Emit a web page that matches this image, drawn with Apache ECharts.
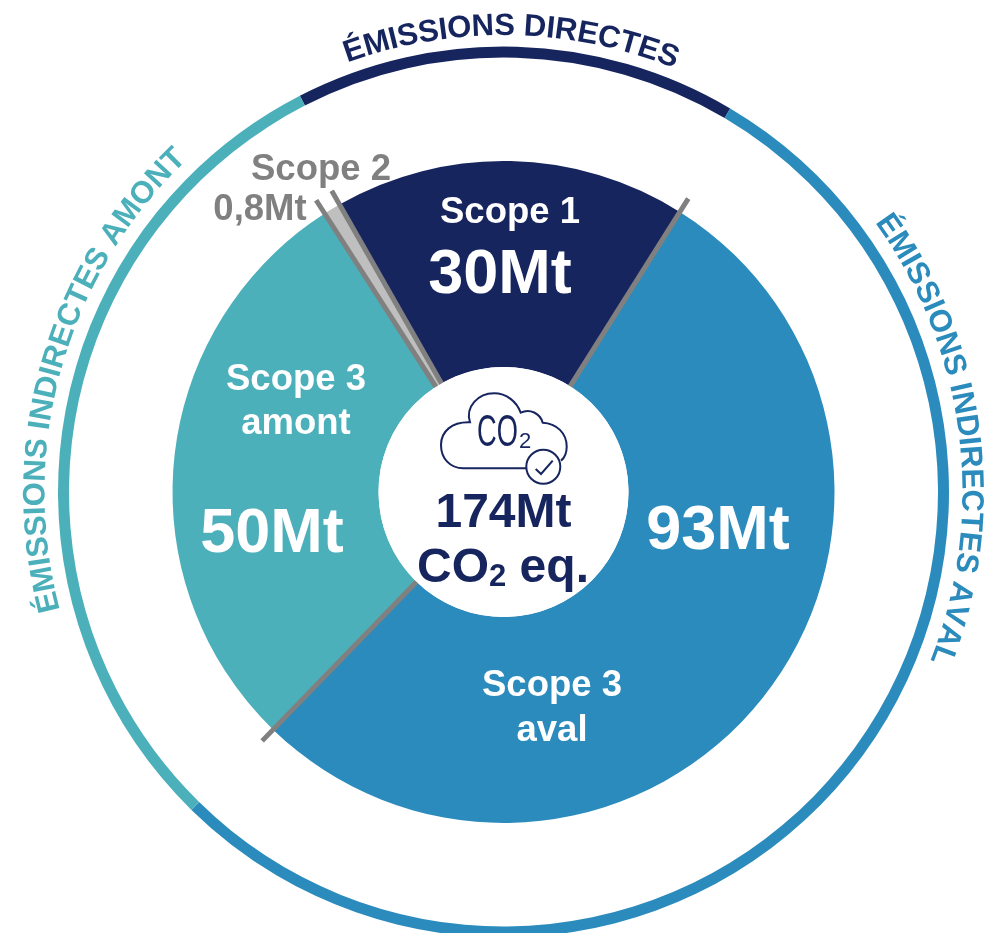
<!DOCTYPE html>
<html>
<head>
<meta charset="utf-8">
<style>html,body{margin:0;padding:0;background:#fff}#c{width:1000px;height:933px}</style>
<script src="https://cdn.jsdelivr.net/npm/echarts@6/dist/echarts.min.js"></script>
</head>
<body>
<div id="c"></div>
<script>
// ---- data ----
const scopeNames = ['Scope 1', 'Scope 2', 'Scope 3 amont', 'Scope 3 aval'];
const scopeValues = [30, 0.8, 50, 93];
const ringNames = ['Émissions directes', 'Émissions indirectes aval', 'Émissions indirectes amont'];
const ringValues = [27.9, 93.6, 52.3];
const totalLabel = '174Mt';

// ---- style ----
const NAVY = '#17255f', BLUE = '#2a8bbc', TEAL = '#4cb0bb', LIGHT = '#bfbfbf', GREY = '#808080';
const FONT = '"Liberation Sans", Arial, sans-serif';
const cx = 503.5, cy = 492, R0 = 125, R1 = 331, MIN_ANGLE = 3, START = 32.2;

// separator angles follow the pie layout (clockwise from the top)
function separatorAngles() {
  const sum = scopeValues.reduce((a, b) => a + b, 0);
  let rest = 360, big = 0;
  scopeValues.forEach(v => { if (v / sum * 360 < MIN_ANGLE) rest -= MIN_ANGLE; else big += v; });
  const out = [START];
  let a = START;
  scopeValues.forEach(v => {
    a -= (v / sum * 360 < MIN_ANGLE) ? MIN_ANGLE : v * rest / big;
    out.push(a);
  });
  return out.slice(0, 4).map(x => (x + 720) % 360);
}

const ctx = document.createElement('canvas').getContext('2d');
function arcText(text, size, weight, color, from, to, baseR) {
  const font = weight + ' ' + size + 'px ' + FONT;
  ctx.font = font;
  const chars = Array.from(text);
  const w = chars.map(c => ctx.measureText(c).width);
  const total = w.reduce((a, b) => a + b, 0);
  const arc = (to - from) * Math.PI / 180 * baseR;
  const gap = (arc - total) / (chars.length - 1);
  let s = 0;
  const out = [];
  const r = baseR + 0.34 * size;
  chars.forEach((c, i) => {
    const t = from * Math.PI / 180 + (s + w[i] / 2) / baseR;
    s += w[i] + gap;
    if (c === ' ') return;
    out.push({
      type: 'text', z: 100, silent: true,
      x: cx + r * Math.sin(t), y: cy - r * Math.cos(t), rotation: -t,
      style: { text: c, font, fill: color, align: 'center', verticalAlign: 'middle' }
    });
  });
  return out;
}
function label(text, x, y, size, color) {
  return {
    type: 'text', z: 100, silent: true, x, y: y + size * 0.07,
    style: { text, font: 'bold ' + size + 'px ' + FONT, fill: color, align: 'center', verticalAlign: 'middle' }
  };
}

const centre = [
  { type: 'circle', z: 99, silent: true, shape: { cx, cy, r: R0 }, style: { fill: '#fff' } },
  { type: 'text', z: 100, silent: true, x: 477, y: 434, scaleX: 0.62,
    style: { text: 'CO', font: 'normal 44px ' + FONT, fill: NAVY, align: 'left', verticalAlign: 'middle' } },
  { type: 'text', z: 100, silent: true, x: 519, y: 442,
    style: { text: '2', font: 'normal 22px ' + FONT, fill: NAVY, align: 'left', verticalAlign: 'middle' } },
  label(totalLabel, 503.5, 510, 48, NAVY),
  { type: 'text', z: 100, silent: true, x: 503, y: 559,
    style: { text: '{a|CO}{s|2}{a| eq.}', align: 'center', verticalAlign: 'middle',
      rich: { a: { font: 'bold 48px ' + FONT, fill: NAVY, lineHeight: 60, verticalAlign: 'bottom' },
              s: { font: 'bold 31px ' + FONT, fill: NAVY, padding: [36, 0, 0, 0], verticalAlign: 'bottom' } } } }
];

const texts = [
  label('Scope 1', 510, 210, 36.5, '#fff'),
  label('30Mt', 500, 271, 63, '#fff'),
  label('Scope 2', 321, 167, 36.5, GREY),
  label('0,8Mt', 260, 207, 36.5, GREY),
  label('Scope 3', 296, 377, 36.5, '#fff'),
  label('amont', 296, 421, 36.5, '#fff'),
  label('50Mt', 272, 530, 63, '#fff'),
  label('93Mt', 718, 527, 63, '#fff'),
  label('Scope 3', 552, 683, 36.5, '#fff'),
  label('aval', 552, 728, 36.5, '#fff')
];

const graphics = [].concat(
  centre, texts,
  arcText('ÉMISSIONS DIRECTES', 31, 'bold', NAVY, -20, 22, 455),
  arcText('ÉMISSIONS INDIRECTES AVAL', 31, 'bold', BLUE, 54, 111.6, 457),
  arcText('ÉMISSIONS INDIRECTES AMONT', 31, 'bold', TEAL, -104.9, -43.6, 457)
);

const sepR = 347;
const separators = separatorAngles().map(a => ({
  type: 'line', coordinateSystem: 'polar', silent: true, z: 5, showSymbol: false, clip: false, animation: false,
  lineStyle: { color: GREY, width: 5, cap: 'butt' },
  data: [[R0 - 6, a], [sepR, a]]
}));

const iconSeries = {
  type: 'custom', coordinateSystem: 'none', silent: true, z: 200, animation: false,
  data: [0],
  renderItem: () => ({
    type: 'group',
    children: [
      { type: 'path', z2: 1,
        shape: { pathData: 'M468 295 L280 295 C240 295 213 265 213 225 C213 185 245 155 300 157 C285 110 325 70 372 70 C410 70 440 95 452 128 C480 115 510 130 518 158 C560 160 590 190 590 230 C590 245 585 262 573 272',
                 x: 441, y: 393.3, width: 125.7, height: 75, layout: 'cover' },
        style: { fill: 'none', stroke: NAVY, lineWidth: 2 } },
      { type: 'circle', z2: 2, shape: { cx: 543.3, cy: 466.7, r: 17 }, style: { fill: '#fff', stroke: NAVY, lineWidth: 2 } },
      { type: 'path', z2: 3,
        shape: { pathData: 'M497 297 L513 312 L548 272', x: 535.7, y: 460.7, width: 17, height: 13.3, layout: 'cover' },
        style: { fill: 'none', stroke: NAVY, lineWidth: 2 } }
    ]
  })
};

const chart = echarts.init(document.getElementById('c'), null, { renderer: 'canvas', width: 1000, height: 933 });
chart.setOption({
  animation: false,
  backgroundColor: '#fff',
  polar: { center: [cx, cy], radius: [0, sepR] },
  angleAxis: { type: 'value', min: 0, max: 360, startAngle: 90, clockwise: true, show: false },
  radiusAxis: { type: 'value', min: 0, max: sepR, show: false },
  series: [
    {
      type: 'pie', center: [cx, cy], radius: [R0, R1], startAngle: 90 - START, clockwise: false,
      minAngle: MIN_ANGLE, silent: true, z: 2, label: { show: false }, labelLine: { show: false },
      data: scopeNames.map((name, i) => ({ name, value: scopeValues[i], itemStyle: { color: [NAVY, LIGHT, TEAL, BLUE][i] } }))
    },
    {
      type: 'pie', center: [cx, cy], radius: [434.5, 445.5], startAngle: 90 + 27.2, clockwise: true,
      silent: true, z: 2, label: { show: false }, labelLine: { show: false },
      data: ringNames.map((name, i) => ({ name, value: ringValues[i], itemStyle: { color: [NAVY, BLUE, TEAL][i] } }))
    },
    iconSeries
  ].concat(separators),
  graphic: { elements: graphics }
});
</script>
</body>
</html>
